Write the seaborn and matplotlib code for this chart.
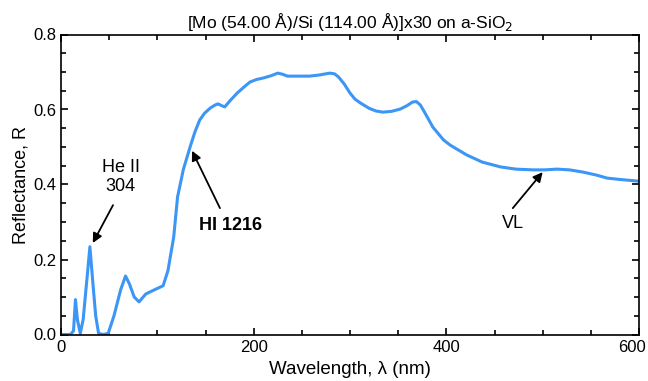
import matplotlib
matplotlib.use("Agg")
import matplotlib.pyplot as plt
import seaborn as sns
import pandas as pd
from matplotlib.ticker import MultipleLocator, FuncFormatter, FormatStrFormatter

sns.set_style("ticks")
plt.rcParams['font.family'] = ['Liberation Sans', 'DejaVu Sans']
plt.rcParams['text.color'] = 'black'
plt.rcParams['axes.labelcolor'] = 'black'
plt.rcParams['xtick.color'] = 'black'
plt.rcParams['ytick.color'] = 'black'

wavelength = [0, 10, 13, 15, 17, 20, 23, 27, 30, 33, 36, 39, 44, 49, 55, 62, 67, 71, 76, 81, 88, 96, 106, 111,
              117, 121, 127, 134, 139, 144, 149, 155, 160, 163, 167, 170, 176, 183, 190, 196, 203, 210, 218, 225,
              230, 235, 246, 258, 268, 279, 284, 288, 294, 300, 305, 311, 320, 327, 334, 343, 352, 359, 365, 369,
              373, 378, 386, 397, 404, 421, 437, 456, 472, 490, 502, 515, 528, 542, 556, 567, 582, 599, 600]
reflectance = [0, 0, 0.01, 0.093, 0.04, 0.003, 0.04, 0.15, 0.234, 0.14, 0.05, 0.003, 0.0, 0.003, 0.05, 0.12,
               0.156, 0.135, 0.10, 0.087, 0.108, 0.118, 0.13, 0.17, 0.26, 0.367, 0.44, 0.50, 0.54, 0.572, 0.59,
               0.604, 0.612, 0.615, 0.61, 0.607, 0.625, 0.644, 0.66, 0.673, 0.68, 0.684, 0.69, 0.697, 0.694, 0.689,
               0.689, 0.689, 0.692, 0.697, 0.695, 0.687, 0.668, 0.644, 0.628, 0.617, 0.603, 0.596, 0.593, 0.595,
               0.601, 0.61, 0.62, 0.621, 0.612, 0.59, 0.553, 0.519, 0.505, 0.479, 0.46, 0.447, 0.441, 0.439, 0.439,
               0.441, 0.439, 0.433, 0.425, 0.417, 0.413, 0.409, 0.409]

df = pd.DataFrame({"wavelength": wavelength, "reflectance": reflectance})

fig = plt.figure(figsize=(6.48, 3.81), dpi=100)
ax = fig.add_axes([61/648, 1-334.5/381, 578/648, 300/381])

sns.lineplot(data=df, x="wavelength", y="reflectance", ax=ax, color="#3b96f5", linewidth=2.2)

ax.set_xlim(0, 600)
ax.set_ylim(0, 0.8)
ax.xaxis.set_major_locator(MultipleLocator(200))
ax.xaxis.set_minor_locator(MultipleLocator(50))
ax.yaxis.set_major_locator(MultipleLocator(0.2))
ax.yaxis.set_minor_locator(MultipleLocator(0.05))
ax.tick_params(which='both', direction='in', top=True, right=True, labelsize=12, color='black')
ax.tick_params(axis='x', which='both', pad=4)
ax.tick_params(axis='y', which='both', pad=3)
ax.tick_params(which='major', length=5, width=1.2)
ax.tick_params(which='minor', length=3.5, width=1.2)
ax.yaxis.set_major_formatter(FormatStrFormatter('%.1f'))
ax.xaxis.set_major_formatter(FuncFormatter(lambda v, p: "" if v >= 600 else f"{v:.0f}"))
for s in ax.spines.values():
    s.set_linewidth(1.2)
    s.set_color('black')

# last x tick label, nudged left so it stays inside the figure
ax.annotate("600", xy=(600, 0), xycoords="data", xytext=(-5, -4), textcoords="offset points",
            ha="center", va="top", fontsize=12, annotation_clip=False)

ax.set_xlabel("Wavelength, λ (nm)", fontsize=13.5, labelpad=4)
ax.set_ylabel("Reflectance, R", fontsize=13, labelpad=3)
ax.set_title("[Mo (54.00 Å)/Si (114.00 Å)]x30 on a-SiO$_2$", fontsize=12.5, pad=5)

arrow = dict(arrowstyle="-|>", color="black", lw=1.3, mutation_scale=14, shrinkA=0, shrinkB=0)
ax.annotate("", xy=(33, 0.244), xytext=(54, 0.345), arrowprops=arrow)
ax.text(62, 0.42, "He II\n304", ha="center", va="center", fontsize=13, linespacing=1.1)
ax.annotate("", xy=(136, 0.49), xytext=(165, 0.337), arrowprops=arrow)
ax.text(175.5, 0.292, "HI 1216", ha="center", va="center", fontsize=13, fontweight="bold")
ax.annotate("", xy=(500, 0.433), xytext=(469, 0.337), arrowprops=arrow)
ax.text(469, 0.297, "VL", ha="center", va="center", fontsize=13)

fig.savefig("out.png", dpi=100)
